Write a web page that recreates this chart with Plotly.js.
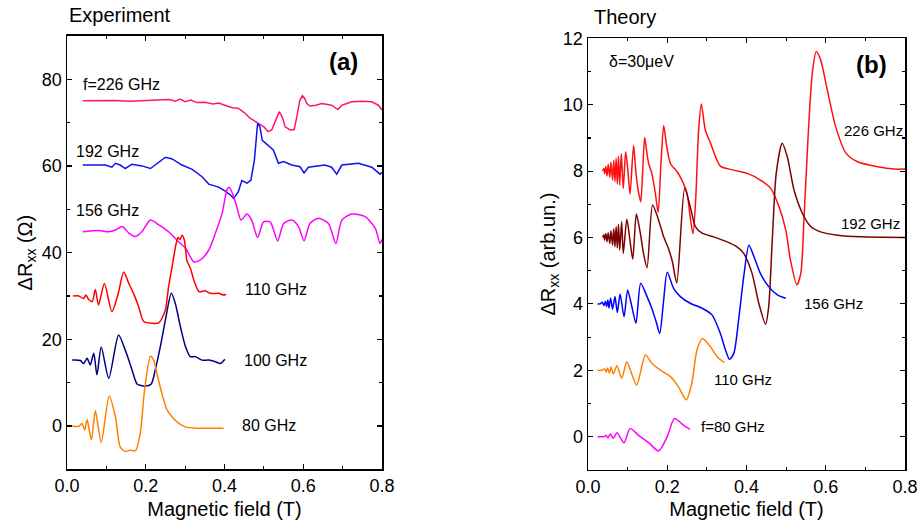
<!DOCTYPE html>
<html>
<head>
<meta charset="utf-8">
<script src="https://cdn.plot.ly/plotly-3.0.1.min.js"></script>
<style>html,body{margin:0;padding:0;background:#fff;}#chart{width:918px;height:526px;}</style>
</head>
<body>
<div id="chart"></div>
<script>
// ---------- Panel (a): Experiment ----------
const a226_B = [0.040,0.080,0.120,0.160,0.200,0.240,0.260,0.275,0.287,0.300,0.315,0.330,0.350,0.371,0.385,0.401,0.420,0.435,0.450,0.465,0.486,0.500,0.511,0.520,0.530,0.539,0.547,0.554,0.567,0.577,0.584,0.591,0.598,0.604,0.609,0.617,0.632,0.647,0.672,0.688,0.698,0.723,0.750,0.774,0.791,0.800];
const a226_R = [75.0,75.0,75.1,74.9,75.0,75.1,75.3,74.9,75.4,74.8,75.2,74.6,74.7,74.3,74.5,74.0,73.4,73.3,72.3,71.0,69.8,69.0,67.9,68.3,70.5,72.5,71.2,69.0,68.3,68.4,71.4,75.0,76.2,75.5,74.4,73.8,74.0,74.4,74.0,73.0,74.0,74.8,74.9,74.8,74.0,72.9];

const a192_B = [0.040,0.072,0.097,0.114,0.123,0.135,0.148,0.165,0.190,0.212,0.229,0.250,0.267,0.292,0.318,0.343,0.360,0.385,0.402,0.415,0.423,0.435,0.444,0.457,0.467,0.476,0.484,0.490,0.496,0.511,0.524,0.537,0.550,0.571,0.592,0.602,0.613,0.655,0.672,0.685,0.698,0.740,0.774,0.795,0.800];
const a192_R = [60.2,60.2,60.2,59.7,60.6,60.2,59.4,60.4,60.0,59.4,60.6,62.0,61.6,60.2,59.2,57.5,55.8,55.1,54.2,53.3,52.5,54.0,56.6,56.0,56.7,61.4,69.8,69.0,65.9,64.8,63.7,60.6,61.0,60.2,59.8,58.4,59.7,60.2,59.7,58.1,60.2,60.6,59.7,58.1,58.5];

const a156_B = [0.040,0.080,0.106,0.123,0.140,0.157,0.174,0.190,0.212,0.233,0.258,0.279,0.301,0.322,0.339,0.360,0.377,0.394,0.406,0.412,0.423,0.431,0.442,0.457,0.469,0.484,0.499,0.516,0.535,0.550,0.571,0.588,0.602,0.617,0.639,0.664,0.683,0.698,0.723,0.757,0.783,0.795,0.800];
const a156_R = [44.8,45.1,44.8,45.2,46.0,44.5,43.7,44.8,47.5,46.4,44.8,42.9,41.0,37.9,38.3,40.6,44.5,49.1,54.4,55.1,53.0,50.6,47.5,48.9,47.5,43.5,47.1,47.1,42.7,46.7,47.5,46.0,42.7,46.7,47.9,46.7,42.1,47.5,48.9,48.3,45.6,42.1,43.0];

const a110_B = [0.015,0.030,0.042,0.048,0.055,0.064,0.072,0.080,0.095,0.114,0.130,0.144,0.157,0.169,0.182,0.195,0.216,0.233,0.241,0.250,0.258,0.267,0.277,0.282,0.287,0.292,0.298,0.305,0.313,0.322,0.335,0.351,0.364,0.385,0.398,0.404];
const a110_R = [30.0,30.0,29.4,30.2,29.2,28.7,31.5,27.9,32.9,26.4,30.5,35.5,32.9,30.6,27.5,24.1,23.7,23.8,24.8,26.8,32.1,36.8,42.0,43.5,43.0,44.0,42.9,38.0,36.5,33.7,31.0,31.2,30.6,30.6,30.2,30.4];

const a100_B = [0.013,0.034,0.042,0.051,0.059,0.068,0.076,0.087,0.106,0.131,0.148,0.161,0.169,0.178,0.199,0.214,0.224,0.237,0.250,0.265,0.275,0.288,0.301,0.313,0.326,0.343,0.360,0.377,0.389,0.401];
const a100_R = [15.2,15.1,14.4,15.6,14.1,16.8,11.8,18.2,11.0,21.0,17.5,14.1,11.8,9.7,9.2,9.7,12.9,18.3,24.5,30.6,28.3,22.9,18.3,16.0,16.0,15.2,15.2,14.8,14.4,15.4];

const a80_B = [0.013,0.030,0.038,0.045,0.051,0.062,0.072,0.087,0.107,0.123,0.135,0.148,0.160,0.174,0.186,0.197,0.212,0.220,0.229,0.241,0.254,0.267,0.284,0.301,0.326,0.368,0.398];
const a80_R = [0.0,-0.1,0.6,-0.9,1.5,-3.2,3.5,-3.8,6.9,2.1,-4.8,-5.9,-5.6,-5.7,-1.7,8.3,16.1,15.2,11.8,7.5,3.7,2.1,0.6,-0.2,-0.5,-0.5,-0.5];

// ---------- Panel (b): Theory ----------
const b226_B = [0.037,0.040,0.042,0.045,0.048,0.051,0.055,0.058,0.062,0.065,0.068,0.071,0.074,0.077,0.080,0.084,0.089,0.095,0.100,0.106,0.115,0.121,0.127,0.133,0.138,0.143,0.148,0.153,0.161,0.170,0.177,0.184,0.191,0.198,0.208,0.225,0.237,0.250,0.258,0.265,0.272,0.279,0.286,0.296,0.309,0.334,0.368,0.402,0.435,0.461,0.482,0.499,0.511,0.527,0.537,0.545,0.555,0.566,0.576,0.587,0.604,0.625,0.651,0.680,0.731,0.773,0.800];
const b226_R = [8.00,8.08,7.92,8.14,7.85,8.21,7.81,8.27,7.73,8.33,7.68,8.39,7.61,8.45,7.58,8.52,7.48,8.58,8.10,7.31,8.77,7.95,7.40,7.08,8.00,9.01,8.60,8.23,7.93,7.33,6.75,8.20,9.37,8.80,8.23,7.98,7.73,7.33,6.60,6.11,7.20,9.20,10.02,9.24,8.85,8.15,8.03,7.93,7.73,7.48,6.93,6.23,5.32,4.57,4.92,6.53,8.94,10.95,11.60,11.35,10.44,9.34,8.54,8.28,8.13,8.06,8.06];

const b192_B = [0.037,0.040,0.042,0.045,0.048,0.051,0.055,0.058,0.062,0.065,0.068,0.071,0.074,0.077,0.080,0.085,0.089,0.098,0.105,0.113,0.122,0.132,0.140,0.149,0.163,0.178,0.191,0.203,0.213,0.224,0.244,0.258,0.271,0.288,0.317,0.351,0.376,0.393,0.414,0.431,0.448,0.456,0.465,0.475,0.490,0.503,0.520,0.541,0.562,0.587,0.630,0.689,0.800];
const b192_R = [6.00,6.08,5.92,6.12,5.87,6.14,5.82,6.20,5.77,6.26,5.72,6.33,5.68,6.40,5.62,6.48,5.52,6.55,6.00,5.35,6.71,6.13,5.52,5.09,6.98,6.53,6.02,5.67,5.27,4.63,7.48,6.93,6.33,6.13,6.02,5.87,5.72,5.52,4.92,4.02,3.39,3.92,5.92,7.93,8.84,8.43,7.43,6.73,6.33,6.17,6.07,6.02,6.00];

const b156_B = [0.024,0.030,0.036,0.040,0.044,0.047,0.050,0.053,0.057,0.062,0.068,0.074,0.081,0.091,0.100,0.111,0.121,0.133,0.149,0.161,0.172,0.181,0.190,0.200,0.216,0.233,0.258,0.288,0.313,0.334,0.347,0.357,0.368,0.381,0.393,0.406,0.419,0.435,0.456,0.478,0.499];
const b156_R = [4.00,4.00,4.05,3.95,4.08,3.92,4.12,3.88,4.17,3.84,4.22,3.74,4.30,3.61,4.42,3.90,3.42,4.62,4.22,3.87,3.46,3.11,4.00,4.95,4.47,4.22,4.02,3.87,3.67,3.11,2.61,2.33,2.51,3.61,4.82,5.77,5.42,4.92,4.52,4.27,4.17];

const b110_B = [0.024,0.035,0.042,0.046,0.049,0.054,0.058,0.064,0.073,0.085,0.098,0.110,0.123,0.145,0.161,0.182,0.208,0.228,0.248,0.262,0.275,0.289,0.309,0.326,0.344];
const b110_R = [2.00,2.00,2.04,1.95,2.07,1.92,2.10,1.89,2.14,1.76,2.26,1.90,1.56,2.46,2.21,2.01,1.81,1.51,1.11,1.61,2.61,2.96,2.71,2.41,2.23];

const b80_B = [0.024,0.040,0.046,0.050,0.056,0.064,0.073,0.091,0.106,0.127,0.153,0.178,0.200,0.218,0.241,0.257];
const b80_R = [0.00,0.00,0.04,-0.04,0.08,-0.05,0.12,-0.18,0.25,0.05,-0.18,-0.43,0.00,0.55,0.35,0.22];

// labels
const aLabels = ['f=226 GHz','192 GHz','156 GHz','110 GHz','100 GHz','80 GHz'];
const aLabelB = [0.035,0.018,0.018,0.446,0.444,0.440];
const aLabelR = [78.7,63.3,49.8,31.4,15.1,0.2];
const bLabels = ['226 GHz','192 GHz','156 GHz','110 GHz','f=80 GHz'];
const bLabelB = [0.642,0.634,0.541,0.313,0.279];
const bLabelR = [9.22,6.43,4.0,1.73,0.32];

const W = 918, H = 526;
const py = y => 1 - y / H;

function tr(x, y, color, xa, ya, shape) {
  return {x: x, y: y, type: 'scatter', mode: 'lines', xaxis: xa, yaxis: ya,
    line: {color: color, width: 1.5, shape: shape, smoothing: 0.7}, hoverinfo: 'skip'};
}

const data = [
  tr(a226_B, a226_R, '#FF1478', 'x', 'y', 'linear'),
  tr(a192_B, a192_R, '#1010F0', 'x', 'y', 'linear'),
  tr(a156_B, a156_R, '#FF00FF', 'x', 'y', 'spline'),
  tr(a110_B, a110_R, '#FF0000', 'x', 'y', 'spline'),
  tr(a100_B, a100_R, '#000080', 'x', 'y', 'spline'),
  tr(a80_B, a80_R, '#FF8000', 'x', 'y', 'spline'),
  tr(b226_B, b226_R, '#FF1010', 'x2', 'y2', 'spline'),
  tr(b192_B, b192_R, '#7F0000', 'x2', 'y2', 'spline'),
  tr(b156_B, b156_R, '#0000FF', 'x2', 'y2', 'spline'),
  tr(b110_B, b110_R, '#FF8000', 'x2', 'y2', 'spline'),
  tr(b80_B, b80_R, '#FF00FF', 'x2', 'y2', 'spline')
];

const FONT = 'Liberation Sans, Arial, Helvetica, sans-serif';
const axisCommon = {
  ticks: 'inside', ticklen: 5, tickwidth: 1.2, tickcolor: '#000', mirror: 'allticks',
  showline: true, linewidth: 1.5, linecolor: '#000', showgrid: false, zeroline: false,
  tickfont: {family: FONT, size: 18, color: '#000'}
};

const annotations = [];
aLabels.forEach((t, i) => annotations.push({xref: 'x', yref: 'y', x: aLabelB[i], y: aLabelR[i], text: t,
  showarrow: false, xanchor: 'left', yanchor: 'middle', font: {family: FONT, size: 16, color: '#000'}}));
bLabels.forEach((t, i) => annotations.push({xref: 'x2', yref: 'y2', x: bLabelB[i], y: bLabelR[i], text: t,
  showarrow: false, xanchor: 'left', yanchor: 'middle', font: {family: FONT, size: 15, color: '#000'}}));
annotations.push({xref: 'x', yref: 'y', x: 0.701, y: 84.0, text: '<b>(a)</b>', showarrow: false,
  xanchor: 'center', yanchor: 'middle', font: {family: FONT, size: 24, color: '#000'}});
annotations.push({xref: 'x2', yref: 'y2', x: 0.716, y: 11.2, text: '<b>(b)</b>', showarrow: false,
  xanchor: 'center', yanchor: 'middle', font: {family: FONT, size: 24, color: '#000'}});
annotations.push({xref: 'x2', yref: 'y2', x: 0.049, y: 11.3, text: 'δ=30μeV', showarrow: false,
  xanchor: 'left', yanchor: 'middle', font: {family: FONT, size: 16, color: '#000'}});
annotations.push({xref: 'paper', yref: 'paper', x: 67 / W, y: py(15), text: 'Experiment', showarrow: false,
  xanchor: 'left', yanchor: 'middle', font: {family: FONT, size: 20, color: '#000'}});
annotations.push({xref: 'paper', yref: 'paper', x: 592 / W, y: py(17), text: 'Theory', showarrow: false,
  xanchor: 'left', yanchor: 'middle', font: {family: FONT, size: 20, color: '#000'}});

const layout = {
  width: W, height: H, margin: {l: 0, r: 0, t: 0, b: 0},
  paper_bgcolor: '#fff', plot_bgcolor: '#fff', showlegend: false,
  font: {family: FONT, size: 18, color: '#000'},
  xaxis: Object.assign({}, axisCommon, {domain: [67 / W, 382 / W], range: [0, 0.8], dtick: 0.2, tick0: 0,
    tickformat: '.1f', anchor: 'y', minor: {dtick: 0.1, ticks: 'inside', ticklen: 3, tickcolor: '#000'},
    title: {text: 'Magnetic field (T)', font: {family: FONT, size: 20, color: '#000'}, standoff: 6}}),
  yaxis: Object.assign({}, axisCommon, {domain: [py(469.35), py(35.85)], range: [-10, 90], dtick: 20, tick0: 0,
    anchor: 'x', minor: {dtick: 10, ticks: 'inside', ticklen: 3, tickcolor: '#000'},
    title: {text: 'ΔR<sub>xx</sub> (Ω)', font: {family: FONT, size: 20, color: '#000'}, standoff: 4}}),
  xaxis2: Object.assign({}, axisCommon, {domain: [588 / W, 905 / W], range: [0, 0.8], dtick: 0.2, tick0: 0,
    tickformat: '.1f', anchor: 'y2', minor: {dtick: 0.1, ticks: 'inside', ticklen: 3, tickcolor: '#000'},
    title: {text: 'Magnetic field (T)', font: {family: FONT, size: 20, color: '#000'}, standoff: 6}}),
  yaxis2: Object.assign({}, axisCommon, {domain: [py(469.9), py(38.3)], range: [-1, 12], dtick: 2, tick0: 0,
    anchor: 'x2', minor: {dtick: 1, ticks: 'inside', ticklen: 3, tickcolor: '#000'},
    title: {text: 'ΔR<sub>xx</sub> (arb.un.)', font: {family: FONT, size: 20, color: '#000'}, standoff: 2}}),
  annotations: annotations
};

Plotly.newPlot('chart', data, layout, {staticPlot: true, displayModeBar: false});
</script>
</body>
</html>
